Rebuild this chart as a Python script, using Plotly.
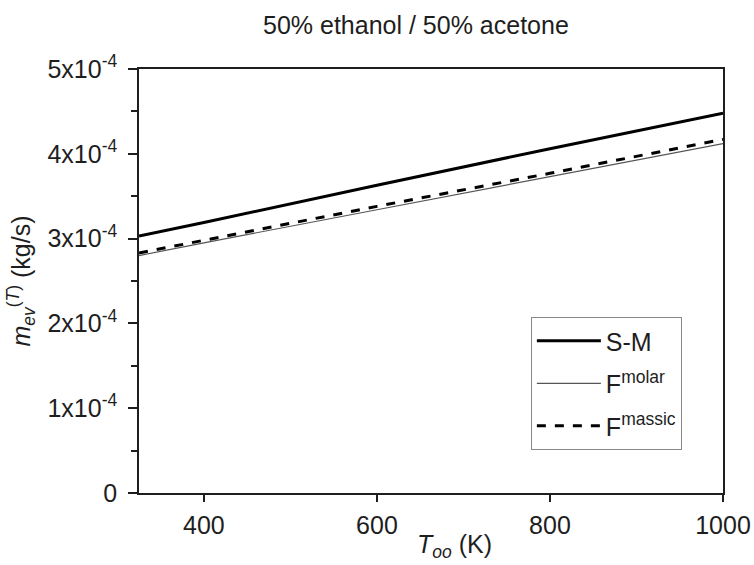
import plotly.graph_objects as go

T = [325, 400, 600, 800, 1000]
sm = [3.03e-4, 3.19e-4, 3.63e-4, 4.06e-4, 4.48e-4]
f_molar = [2.80e-4, 2.95e-4, 3.34e-4, 3.73e-4, 4.12e-4]
f_massic = [2.83e-4, 2.98e-4, 3.38e-4, 3.77e-4, 4.17e-4]

ytick_vals = [0, 1e-4, 2e-4, 3e-4, 4e-4, 5e-4]
ytick_text = ["0", "1x10<sup>-4</sup>", "2x10<sup>-4</sup>", "3x10<sup>-4</sup>",
              "4x10<sup>-4</sup>", "5x10<sup>-4</sup>"]
xtick_vals = [400, 600, 800, 1000]

font = "Liberation Sans, Arial, sans-serif"
ink = "#1e1e1e"

fig = go.Figure()
fig.add_trace(go.Scatter(x=T, y=sm, mode="lines", name="S-M", legendgroup="a",
                         line=dict(color="black", width=3)))
fig.add_trace(go.Scatter(x=T, y=f_molar, mode="lines", name="F<sup>molar</sup>",
                         legendgroup="b", line=dict(color="#555555", width=1.2)))
fig.add_trace(go.Scatter(x=T, y=f_massic, mode="lines", name="F<sup>massic</sup>",
                         legendgroup="c", line=dict(color="black", width=3, dash="dash")))

fig.update_layout(
    width=754, height=565,
    margin=dict(l=139, r=31, t=69, b=72, autoexpand=False),
    plot_bgcolor="white", paper_bgcolor="white",
    font=dict(family=font, size=25, color=ink),
    showlegend=True,
    legend=dict(x=0.671, y=0.415, xanchor="left", yanchor="top",
                bordercolor="#888888", borderwidth=1, bgcolor="white",
                font=dict(size=25), itemwidth=64, tracegroupgap=7),
    annotations=[
        dict(text="50% ethanol / 50% acetone", x=0.474, y=1.0,
             xref="paper", yref="paper", xanchor="center", yanchor="middle",
             yshift=44, showarrow=False, font=dict(size=25, color=ink)),
        dict(text="<i>T</i><sub><i>oo</i></sub> (K)", x=0.541, y=0.0,
             xref="paper", yref="paper", xanchor="center", yanchor="middle",
             yshift=-53, showarrow=False, font=dict(size=25, color=ink)),
    ],
)
fig.update_xaxes(range=[325, 1000], tickvals=xtick_vals, ticks="outside", ticklen=7,
                 tickwidth=1.5, tickcolor=ink, ticklabelstandoff=2, automargin=False,
                 showline=True, linecolor=ink, linewidth=1.6, mirror=True,
                 showgrid=False, zeroline=False)
fig.update_yaxes(range=[0, 5e-4], tickvals=ytick_vals, ticktext=ytick_text,
                 ticks="outside", ticklen=9, tickwidth=1.5, tickcolor=ink,
                 ticklabelstandoff=6, automargin=False,
                 minor=dict(tickvals=[0.5e-4, 1.5e-4, 2.5e-4, 3.5e-4, 4.5e-4],
                            ticks="outside", ticklen=6, tickwidth=1.5, tickcolor=ink),
                 showline=True, linecolor=ink, linewidth=1.6, mirror=True,
                 showgrid=False, zeroline=False,
                 title=dict(text="<i>m</i><sub><i>ev</i></sub><sup>(<i>T</i>)</sup> (kg/s)",
                            standoff=10, font=dict(size=25)))

fig.write_html("out.html")
